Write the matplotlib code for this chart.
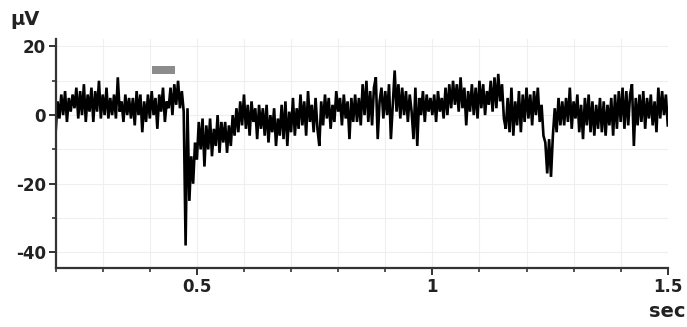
import numpy as np
import matplotlib
matplotlib.use("Agg")
import matplotlib.pyplot as plt
from matplotlib.patches import Rectangle
from matplotlib.ticker import MultipleLocator

# --- datos ---
# traza en uV, una muestra cada 4 ms desde 0.2 s hasta 1.5 s
t_start = 0.2
t_step = 0.004
trace_uv = [
    -5, 4, -1, 6, 0, 7, -2, 5, 1, 6,
    2, 8, -1, 7, 0, 9, -2, 6, 1, 8,
    -2, 7, 1, 10, -1, 6, 0, 8, -1, 5,
    0, 6, -1, 11, 1, 4, -2, 6, 0, 5,
    -1, 5, -3, 7, 0, 6, -5, 4, -2, 6,
    -1, 7, 0, 5, -4, 6, 1, 8, -2, 4,
    2, 8, 0, 9, 3, 10, 2, 7, 1, -38,
    2, -25, -12, -20, -8, -13, -2, -10, -1, -15,
    -3, -10, -1, -12, -4, -9, 0, -11, -2, -8,
    -2, -11, -3, -9, 0, -6, 2, -5, 4, -3,
    6, -4, 3, -6, 4, -2, 2, -7, 3, -4,
    2, -6, 3, -8, 0, -5, 2, -9, -1, -6,
    3, -7, 4, -9, 1, -5, 5, -6, 2, -4,
    6, -3, 4, -6, 7, -2, 3, -5, 5, -4,
    -9, 4, -3, 6, -1, 5, -4, 3, -2, 7,
    1, 5, -3, 6, -1, 4, -7, 5, -2, 6,
    -2, 5, -3, 9, 0, 10, -2, 7, -3, 8,
    11, -7, 4, 8, -1, 7, 0, 9, -7, 3,
    13, 1, 9, -1, 8, 0, 7, -2, 6, 1,
    -7, 8, -9, 5, 0, 7, -2, 6, 1, 5,
    0, 6, -2, 7, 1, 5, -1, 8, 0, 9,
    2, 10, 3, 9, 1, 11, 2, 8, -3, 7,
    1, 9, 0, 8, -1, 10, 2, 9, 0, 7,
    3, 10, 1, 11, 2, 12, 4, 9, -1, -4,
    5, -5, 8, -6, 4, -3, 7, -5, 6, -2,
    8, -1, 6, -3, 7, 0, 8, -2, 3, -6,
    -8, -17, -7, -18, -6, 2, -5, 5, -3, 4,
    -3, 5, -2, 8, -4, 4, -1, 6, -5, 3,
    -7, 5, -3, 6, -5, 4, -6, 3, -4, 5,
    -5, 4, -6, 3, -3, 5, -6, 6, -4, 7,
    -2, 8, -4, 7, -3, 6, 9, -9, 5, -3,
    6, -2, 7, -4, 5, -1, 6, -3, 4, -5,
    8, -1, 7, 0, 6, -3,
]

# barra gris del estimulo (s, uV)
stim_on = 0.405
stim_off = 0.454
stim_low = 11.9
stim_high = 14.3

x_ticks = [0.5, 1, 1.5]
x_tick_labels = ["0.5", "1", "1.5"]
y_ticks = [-40, -20, 0, 20]

time_sec = t_start + t_step * np.arange(len(trace_uv))

plt.rcParams["axes.unicode_minus"] = False

# --- figura ---
fig = plt.figure(figsize=(6.87, 3.27), dpi=100)
ax = fig.add_axes([0.081, 0.180, 0.891, 0.701])

ax.plot(time_sec, trace_uv, color="black", lw=1.9, solid_joinstyle="miter")
ax.add_patch(Rectangle((stim_on, stim_low), stim_off - stim_on, stim_high - stim_low,
                       facecolor="#8c8c8c", edgecolor="none"))

ax.set_xlim(0.2, 1.5)
ax.set_ylim(-44.6, 22.2)

ax.set_xticks(x_ticks)
ax.set_xticklabels(x_tick_labels)
ax.set_yticks(y_ticks)
ax.xaxis.set_minor_locator(MultipleLocator(0.1))
ax.yaxis.set_minor_locator(MultipleLocator(10))

ax.grid(which="both", color="#efefef", lw=0.8)
ax.set_axisbelow(True)

for side in ["top", "right"]:
    ax.spines[side].set_visible(False)
for side in ["left", "bottom"]:
    ax.spines[side].set_color("#333333")
    ax.spines[side].set_linewidth(1.6)

ax.tick_params(which="major", length=5, width=1.4, color="#333333",
               labelsize=12, pad=2)
ax.tick_params(which="minor", length=3, width=1.2, color="#333333")
for lab in ax.get_xticklabels() + ax.get_yticklabels():
    lab.set_fontweight("bold")
    lab.set_color("#222222")

fig.text(0.015, 0.925, "µV", fontsize=14, fontweight="bold", color="#222222")
fig.text(0.998, 0.03, "sec", fontsize=14, fontweight="bold", color="#222222",
         ha="right")

fig.savefig("out.png", dpi=100)
